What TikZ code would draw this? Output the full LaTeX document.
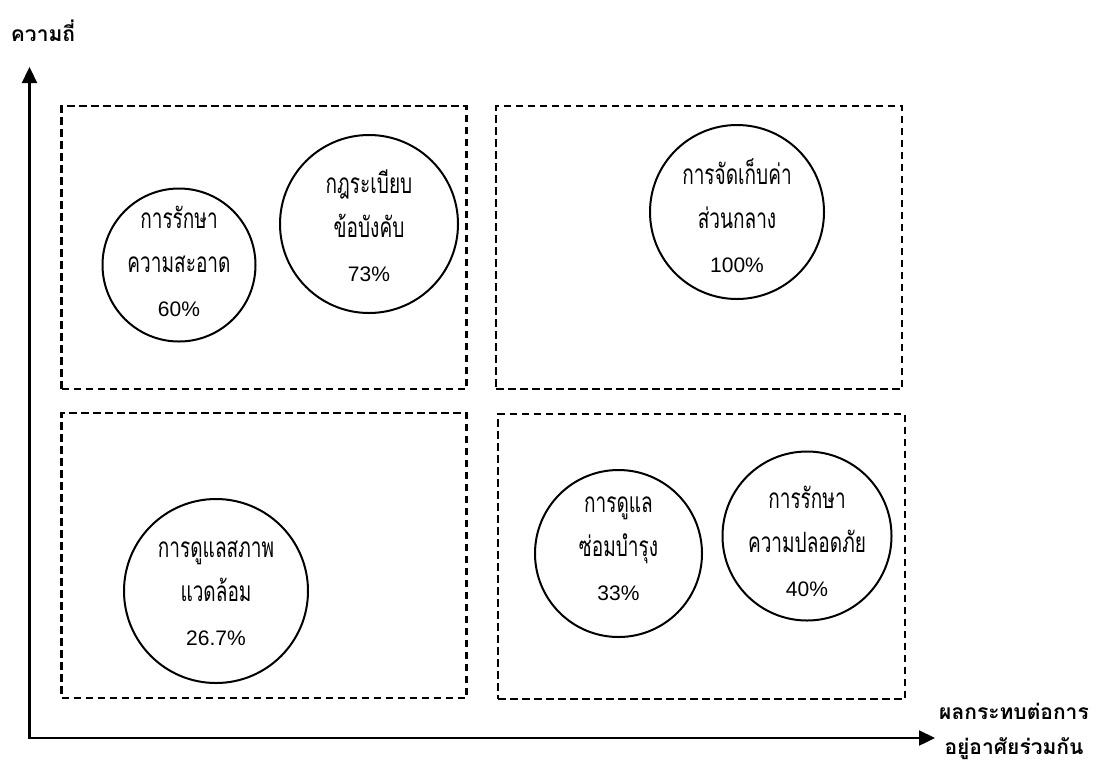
\documentclass[tikz,border=0pt]{standalone}
\usepackage{fontspec}
\newfontfamily\thaifont[Script=Thai]{Loma}
\newfontfamily\thainarrow[Script=Thai,FakeStretch=0.68]{Loma}
\newfontfamily\latinfont{Liberation Sans}
\usetikzlibrary{arrows.meta}
\newcommand\mystrut{\rule[-8pt]{0pt}{24pt}}
\begin{document}
\begin{tikzpicture}[x=1pt,y=-1pt,
  dashbox/.style={draw, line width=2.1pt, dash pattern=on 7.5pt off 4.5pt, inner sep=0pt},
  bubble/.style={draw, circle, line width=2pt, inner sep=0pt},
  btext/.style={align=center, inner sep=0pt, font=\thainarrow\fontsize{28}{44}\selectfont},
  axis/.style={line width=2.3pt, -{Triangle[length=16pt,width=15pt]}},
  axlabel/.style={align=center, inner sep=0pt, font=\thaifont\bfseries\fontsize{21}{35}\selectfont}]
\useasboundingbox (0,0) rectangle (1099,764);
% axes
\coordinate (o) at (29.5,738);
\coordinate (ytip) at (29.5,67);
\coordinate (xtip) at (935,738);
\draw[axis] (o) -- (ytip);
\draw[axis, shorten <=-1.15pt] (o) -- (xtip);
\node[axlabel] (ylab) at (43,31) {ความถี่};
\node[axlabel] (xlab) at (1014,731) {ผลกระทบต่อการ\\อยู่อาศัยร่วมกัน};
% quadrant boxes
\node[dashbox, minimum width=405pt, minimum height=283pt] (q1) at (264,247.5) {};
\node[dashbox, minimum width=406pt, minimum height=283pt] (q2) at (699,247.5) {};
\node[dashbox, minimum width=405pt, minimum height=285pt] (q3) at (264,555.5) {};
\node[dashbox, minimum width=407pt, minimum height=285pt] (q4) at (701.5,556.5) {};
% circles
\node[bubble, minimum size=153pt] (c1) at (179,265) {};
\node[bubble, minimum size=178pt] (c2) at (369,224) {};
\node[bubble, minimum size=174pt] (c3) at (737,212) {};
\node[bubble, minimum size=184pt] (c4) at (216,591) {};
\node[bubble, minimum size=167pt] (c5) at (618.5,553.5) {};
\node[bubble, minimum size=169pt] (c6) at (807,536) {};
% texts
\newcommand\pc[1]{{\latinfont\fontsize{21}{44}\selectfont #1}}
\node[btext] (t1) at (179,265) {\mystrut การรักษา\\\mystrut ความสะอาด\\\mystrut\pc{60\%}};
\node[btext] (t2) at (369,230) {\mystrut กฎระเบียบ\\\mystrut ข้อบังคับ\\\mystrut\pc{73\%}};
\node[btext] (t3) at (737,220) {\mystrut การจัดเก็บค่า\\\mystrut ส่วนกลาง\\\mystrut\pc{100\%}};
\node[btext] (t4) at (216,597) {\mystrut การดูแลสภาพ\\\mystrut แวดล้อม\\\mystrut\pc{26.7\%}};
\node[btext] (t5) at (618.5,552) {\mystrut การดูแล\\\mystrut ซ่อมบำรุง\\\mystrut\pc{33\%}};
\node[btext] (t6) at (807,545) {\mystrut การรักษา\\\mystrut ความปลอดภัย\\\mystrut\pc{40\%}};
\end{tikzpicture}
\end{document}
